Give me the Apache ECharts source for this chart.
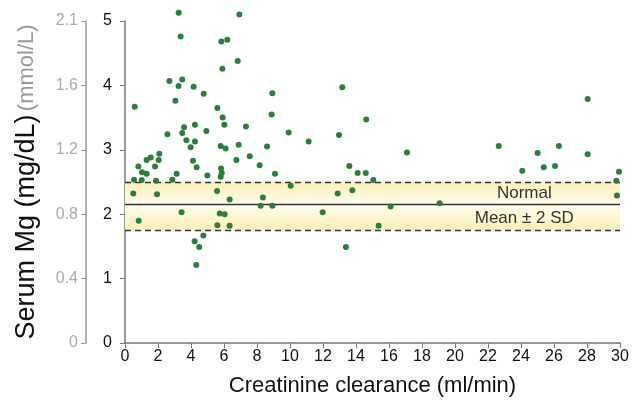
<!DOCTYPE html>
<html>
<head>
<meta charset="utf-8">
<script src="https://cdn.jsdelivr.net/npm/echarts@6/dist/echarts.min.js"></script>
<style>html,body{margin:0;padding:0;background:#fff}#c{width:634px;height:404px}</style>
</head>
<body>
<div id="c"></div>
<script>
// Creatinine clearance (ml/min)
const clearance = [3.25,3.37,6.93,5.84,6.20,6.83,5.90,2.69,3.47,3.25,4.16,4.77,3.05,0.59,8.93,5.60,5.92,8.89,6.02,3.58,
  4.24,7.33,2.57,3.47,4.93,3.72,4.24,9.92,11.13,12.97,13.17,14.62,3.98,5.80,6.10,6.89,8.61,2.08,1.56,1.31,
  2.04,4.12,6.75,7.56,0.81,1.82,4.34,8.16,13.60,1.03,1.31,3.13,4.99,5.86,5.82,5.80,9.09,14.10,14.59,0.55,
  1.01,1.88,2.87,0.50,1.94,0.83,3.43,5.58,6.34,10.04,8.36,8.22,8.93,11.98,12.89,13.78,13.39,5.60,5.74,6.04,
  6.34,4.22,4.50,4.75,4.32,15.05,16.10,15.37,17.09,22.65,25.01,26.30,28.04,28.04,24.08,25.38,26.06,29.94,29.78,29.82,
  19.07];
// Serum Mg (mg/dL)
const serumMg = [5.13,4.76,5.10,4.68,4.71,4.38,4.26,4.07,4.09,3.99,3.98,3.87,3.76,3.67,3.88,3.65,3.50,3.55,3.39,3.35,
  3.39,3.36,3.24,3.26,3.29,3.15,3.13,3.27,3.13,3.23,3.97,3.47,3.04,3.06,3.02,3.08,3.05,2.94,2.88,2.84,
  2.84,2.83,2.84,2.90,2.74,2.74,2.73,2.76,2.75,2.65,2.63,2.63,2.60,2.64,2.71,2.58,2.63,2.64,2.64,2.535,
  2.53,2.52,2.535,2.32,2.31,1.90,2.03,2.36,2.23,2.44,2.26,2.13,2.13,2.03,2.32,2.37,1.49,1.83,2.01,2.00,
  1.82,1.58,1.49,1.67,1.21,2.53,2.12,1.82,2.96,3.06,2.95,3.06,3.79,2.93,2.675,2.73,2.75,2.66,2.52,2.29,
  2.17];
const mgTicks = ['0','1','2','3','4','5'];
const mmolTicks = ['0','0.4','0.8','1.2','1.6','2.1'];
const normalLow = 1.75, normalMean = 2.15, normalHigh = 2.5;
const bandLabels = ['Normal', 'Mean \u00b1 2 SD'];
const bandLabelX = 24.2, bandLabelY = [2.33, 1.94];

const points = clearance.map((x, i) => [x, serumMg[i]]);
const FONT = '"Liberation Sans", Arial, Helvetica, sans-serif';

const chart = echarts.init(document.getElementById('c'), null, {renderer: 'canvas'});
const yellowDown = {type:'linear',x:0,y:0,x2:0,y2:1,colorStops:[{offset:0,color:'#fcf0b8'},{offset:1,color:'#fffcec'}]};
const yellowUp = {type:'linear',x:0,y:0,x2:0,y2:1,colorStops:[{offset:0,color:'#fffcec'},{offset:1,color:'#fcf0b8'}]};

chart.setOption({
  animation: false,
  backgroundColor: '#fff',
  grid: {left: 125, right: 14, top: 21, bottom: 61},
  xAxis: {
    type: 'value', min: 0, max: 30, interval: 2,
    name: 'Creatinine clearance (ml/min)', nameLocation: 'middle', nameGap: 32,
    nameTextStyle: {fontFamily: FONT, fontSize: 22, color: '#111'},
    axisLine: {show: true, onZero: false, lineStyle: {color: '#777', width: 1.5}},
    axisTick: {show: true, length: 5, lineStyle: {color: '#777'}},
    axisLabel: {fontFamily: FONT, fontSize: 16, color: '#111', margin: 6},
    splitLine: {show: false}
  },
  yAxis: [{
    type: 'value', min: 0, max: 5, interval: 1,
    name: '{a|Serum Mg (mg/dL)} {b|(mmol/L)}', nameLocation: 'middle', nameGap: 85, nameRotate: 90,
    nameTextStyle: {rich: {a: {fontFamily: FONT, fontSize: 27, color: '#111'}, b: {fontFamily: FONT, fontSize: 22, color: '#999'}}},
    axisLine: {show: true, onZero: false, lineStyle: {color: '#777', width: 1.5}},
    axisTick: {show: true, length: 5, lineStyle: {color: '#777'}},
    axisLabel: {fontFamily: FONT, fontSize: 16, color: '#111', margin: 13, formatter: (v) => mgTicks[Math.round(v)]},
    splitLine: {show: false}
  }, {
    type: 'value', min: 0, max: 5, interval: 1, position: 'left', offset: 39,
    axisLine: {show: true, onZero: false, lineStyle: {color: '#999', width: 1.5}},
    axisTick: {show: true, length: 5, lineStyle: {color: '#999'}},
    axisLabel: {fontFamily: FONT, fontSize: 16, color: '#aaa', margin: 8, formatter: (v) => mmolTicks[Math.round(v)]},
    splitLine: {show: false}
  }],
  series: [{
    type: 'scatter',
    yAxisIndex: 0,
    clip: false,
    data: points,
    symbolSize: 6,
    itemStyle: {color: '#2e7d3c', opacity: 1},
    z: 5,
    markArea: {
      silent: true,
      data: [
        [{coord: [0, normalHigh], itemStyle: {color: yellowDown}}, {coord: [30, normalMean]}],
        [{coord: [0, normalMean], itemStyle: {color: yellowUp}}, {coord: [30, normalLow]}]
      ]
    },
    markLine: {
      silent: true, symbol: ['none', 'none'], label: {show: false},
      data: [
        [{coord: [0, normalHigh], lineStyle: {type: [6, 4], color: '#333', width: 1.3}}, {coord: [30, normalHigh]}],
        [{coord: [0, normalMean], lineStyle: {type: 'solid', color: '#333', width: 1.3}}, {coord: [30, normalMean]}],
        [{coord: [0, normalLow], lineStyle: {type: [6, 4], color: '#333', width: 1.3}}, {coord: [30, normalLow]}]
      ]
    },
    markPoint: {
      silent: true, symbol: 'circle', symbolSize: 0,
      label: {show: true, position: 'inside', fontFamily: FONT, fontSize: 17, color: '#333', formatter: (p) => p.name},
      data: bandLabels.map((t, i) => ({name: t, coord: [bandLabelX, bandLabelY[i]]}))
    }
  }]
});
</script>
</body>
</html>
